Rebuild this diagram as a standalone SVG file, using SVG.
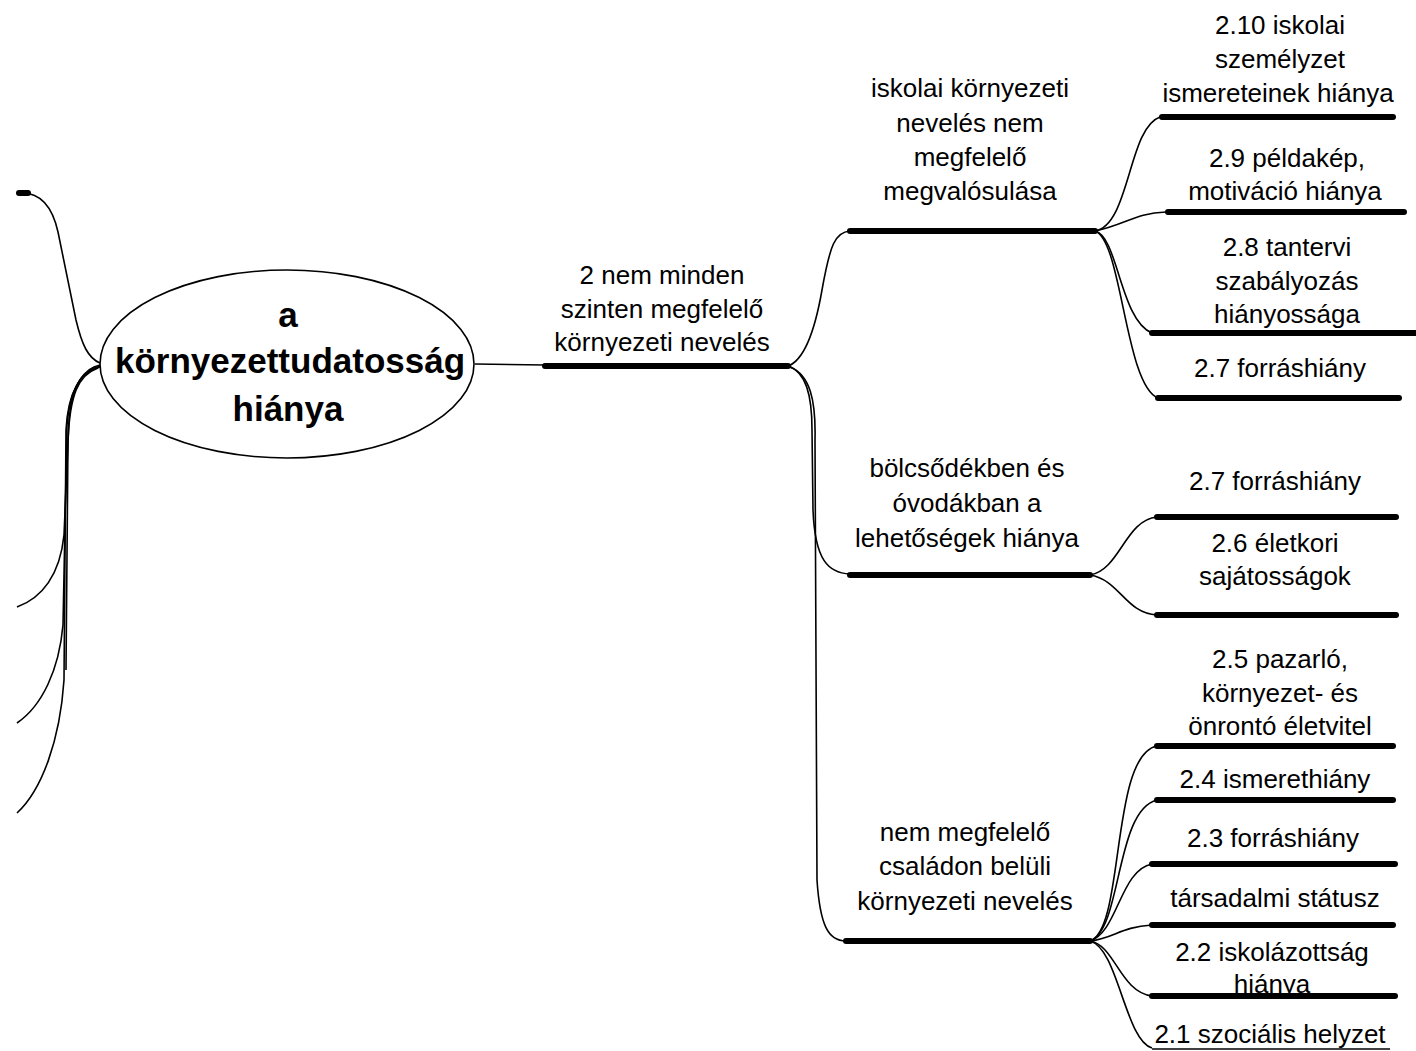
<svg xmlns="http://www.w3.org/2000/svg" width="1416" height="1051" viewBox="0 0 1416 1051">
<style>
.t{font-family:"Liberation Sans",Arial,sans-serif;font-size:26px;fill:#000;text-anchor:middle}
.b{font-family:"Liberation Sans",Arial,sans-serif;font-size:35px;font-weight:bold;fill:#000;text-anchor:middle}
.c{fill:none;stroke:#000;stroke-width:1.6}
.bar{fill:none;stroke:#000;stroke-width:6;stroke-linecap:round}
.thin{fill:none;stroke:#000;stroke-width:1.4}
</style>
<rect width="1416" height="1051" fill="#fff"/>
<g id="connectors">
<!-- left side -->
<path class="c" d="M100,363 C88,358 82,345 76,320 L58,232 C52,205 40,193 22,193"/>
<path class="bar" d="M19,193 L28,193" stroke-width="5"/>
<path class="c" d="M100,365 C84,368 72,385 69,420 L64,535 C60,575 42,598 17,607"/>
<path class="c" d="M100,366 C82,370 70,388 67,425 L63,625 C59,670 42,706 17,723"/>
<path class="c" d="M100,367 C80,372 68,392 66,430 L64,680 C60,740 42,790 17,813"/>
<path class="c" d="M98,368 C78,375 70,395 68,440 L66,670" stroke-width="2.4"/>
<!-- root to main -->
<path class="thin" d="M475,364 L545,365"/>
<path class="bar" d="M545,366 L788,366"/>
<!-- main to level 2 -->
<path class="c" d="M788,366 C805,360 815,330 822,290 C830,245 835,232 850,231"/>
<path class="c" d="M788,366 C806,372 812,395 812,430 L813,510 C815,560 828,573 850,574"/>
<path class="c" d="M790,367 C810,375 816,400 815,440 L817,880 C820,925 828,941 846,941"/>
<!-- level 2 bars -->
<path class="bar" d="M850,231 L1095,231"/>
<path class="bar" d="M850,575 L1090,575"/>
<path class="bar" d="M846,941 L1090,941"/>
<!-- iskolai group -->
<path class="c" d="M1095,231 C1130,225 1128,128 1160,117"/>
<path class="c" d="M1095,231 C1125,225 1135,213 1166,212"/>
<path class="c" d="M1095,231 C1118,236 1120,320 1152,333"/>
<path class="c" d="M1095,231 C1122,240 1125,385 1158,398"/>
<path class="bar" d="M1162,117 L1393,117"/>
<path class="bar" d="M1168,212 L1404,212"/>
<path class="bar" d="M1152,333 L1420,333"/>
<path class="bar" d="M1158,398 L1399,398"/>
<!-- bölcsőd group -->
<path class="c" d="M1090,575 C1120,570 1125,520 1157,517"/>
<path class="c" d="M1090,575 C1120,580 1125,613 1157,615"/>
<path class="bar" d="M1157,517 L1396,517"/>
<path class="bar" d="M1157,615 L1396,615"/>
<!-- család group -->
<path class="c" d="M1090,941 C1125,930 1110,755 1157,746"/>
<path class="c" d="M1090,941 C1122,930 1115,810 1157,800"/>
<path class="c" d="M1090,941 C1118,932 1120,870 1152,864"/>
<path class="c" d="M1090,941 C1115,938 1120,927 1152,925"/>
<path class="c" d="M1090,941 C1115,945 1120,992 1152,996"/>
<path class="c" d="M1090,941 C1118,948 1125,1040 1152,1048"/>
<path class="bar" d="M1157,746 L1393,746"/>
<path class="bar" d="M1157,800 L1393,800"/>
<path class="bar" d="M1152,864 L1395,864"/>
<path class="bar" d="M1152,925 L1393,925"/>
<path class="bar" d="M1152,996 L1395,996"/>
<path class="thin" d="M1152,1049 L1390,1049"/>
</g>
<g id="root">
<ellipse cx="287" cy="364" rx="187" ry="94" fill="#fff" stroke="#000" stroke-width="1.6"/>
<text class="b" x="288" y="327">a</text>
<text class="b" x="290" y="373">környezettudatosság</text>
<text class="b" x="288" y="421">hiánya</text>
</g>
<g id="n2">
<text class="t" x="662" y="284">2 nem minden</text>
<text class="t" x="662" y="318">szinten megfelelő</text>
<text class="t" x="662" y="351">környezeti nevelés</text>
</g>
<g id="iskolai">
<text class="t" x="970" y="97">iskolai környezeti</text>
<text class="t" x="970" y="132">nevelés nem</text>
<text class="t" x="970" y="166">megfelelő</text>
<text class="t" x="970" y="200">megvalósulása</text>
</g>
<g id="bolcsode">
<text class="t" x="967" y="477">bölcsődékben és</text>
<text class="t" x="967" y="512">óvodákban a</text>
<text class="t" x="967" y="547">lehetőségek hiánya</text>
</g>
<g id="csalad">
<text class="t" x="965" y="841">nem megfelelő</text>
<text class="t" x="965" y="875">családon belüli</text>
<text class="t" x="965" y="910">környezeti nevelés</text>
</g>
<g id="n2_10">
<text class="t" x="1280" y="34">2.10 iskolai</text>
<text class="t" x="1280" y="68">személyzet</text>
<text class="t" x="1278" y="102">ismereteinek hiánya</text>
</g>
<g id="n2_9">
<text class="t" x="1287" y="167">2.9 példakép,</text>
<text class="t" x="1285" y="200">motiváció hiánya</text>
</g>
<g id="n2_8">
<text class="t" x="1287" y="256">2.8 tantervi</text>
<text class="t" x="1287" y="290">szabályozás</text>
<text class="t" x="1287" y="323">hiányossága</text>
</g>
<g id="n2_7a">
<text class="t" x="1280" y="377">2.7 forráshiány</text>
</g>
<g id="n2_7b">
<text class="t" x="1275" y="490">2.7 forráshiány</text>
</g>
<g id="n2_6">
<text class="t" x="1275" y="552">2.6 életkori</text>
<text class="t" x="1275" y="585">sajátosságok</text>
</g>
<g id="n2_5">
<text class="t" x="1280" y="668">2.5 pazarló,</text>
<text class="t" x="1280" y="702">környezet- és</text>
<text class="t" x="1280" y="735">önrontó életvitel</text>
</g>
<g id="n2_4">
<text class="t" x="1275" y="788">2.4 ismerethiány</text>
</g>
<g id="n2_3">
<text class="t" x="1273" y="847">2.3 forráshiány</text>
</g>
<g id="tarsadalmi">
<text class="t" x="1275" y="907">társadalmi státusz</text>
</g>
<g id="n2_2">
<text class="t" x="1272" y="961">2.2 iskolázottság</text>
<text class="t" x="1272" y="993">hiánya</text>
</g>
<g id="n2_1">
<text class="t" x="1270" y="1043">2.1 szociális helyzet</text>
</g>
</svg>
